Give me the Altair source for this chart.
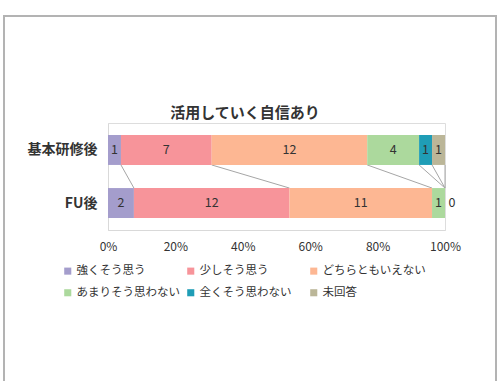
import altair as alt
import pandas as pd

title_text = "活用していく自信あり"
categories = ["強くそう思う", "少しそう思う", "どちらともいえない", "あまりそう思わない", "全くそう思わない", "未回答"]
colors = ["#a49dcc", "#f7949a", "#fdb793", "#acd99d", "#1f9db6", "#bbb698"]
groups = ["基本研修後", "FU後"]
values_kihon = [1, 7, 12, 4, 1, 1]
values_fu = [2, 12, 11, 1, 0, 0]
group_center = {"基本研修後": 0.748, "FU後": 0.252}
half = 0.14

rows = []
conn = []
cum = {}
for g, vals in zip(groups, [values_kihon, values_fu]):
    total = sum(vals)
    s = 0
    ends = []
    for c, v in zip(categories, vals):
        rows.append({"group": g, "cat": c, "value": v,
                     "x0": s / total, "x1": (s + v) / total,
                     "xm": (s + v / 2) / total,
                     "y0": group_center[g] - half, "y1": group_center[g] + half,
                     "yc": group_center[g]})
        s += v
        ends.append(s / total)
    cum[g] = ends
df = pd.DataFrame(rows)
for i, c in enumerate(categories):
    conn.append({"cat": c, "xa": cum["基本研修後"][i], "xb": cum["FU後"][i],
                 "ya": group_center["基本研修後"] - half, "yb": group_center["FU後"] + half})
cdf = pd.DataFrame(conn)

FONT = "Noto Sans CJK JP"

xscale = alt.Scale(domain=[0, 1], nice=False, zero=True)
yscale = alt.Scale(domain=[0, 1], nice=False, zero=True)

bars = alt.Chart(df).mark_bar(opacity=1).encode(
    x=alt.X("x0:Q", scale=xscale,
            axis=alt.Axis(format="%", values=[0, 0.2, 0.4, 0.6, 0.8, 1.0], title=None,
                          grid=False, ticks=False, domainColor="#d9d9d9",
                          labelFontSize=12, labelColor="#333333", labelPadding=11,
                          labelFlush=False, labelOverlap=False, labelFont=FONT)),
    x2="x1:Q",
    y=alt.Y("y0:Q", scale=yscale,
            axis=alt.Axis(values=[0.252, 0.748], title=None, grid=False, ticks=False,
                          labelExpr="datum.value > 0.5 ? '基本研修後' : 'FU後'",
                          domainColor="#d9d9d9", labelFontSize=14, labelFontWeight="bold",
                          labelColor="#333333", labelPadding=11, labelFont=FONT)),
    y2="y1:Q",
    color=alt.Color("cat:N", scale=alt.Scale(domain=categories, range=colors),
                    legend=alt.Legend(title=None, orient="none", legendX=-46, legendY=142,
                                      columns=3, direction="horizontal", gridAlign="all",
                                      columnPadding=5, rowPadding=9, symbolType="square",
                                      symbolSize=50, symbolStrokeWidth=0, labelFontSize=11.5,
                                      labelColor="#333333", labelOffset=3, labelFont=FONT,
                                      labelLimit=200)),
)

connectors = alt.Chart(cdf).mark_rule(color="#a6a6a6", strokeWidth=1).encode(
    x=alt.X("xa:Q", scale=xscale), x2="xb:Q",
    y=alt.Y("ya:Q", scale=yscale), y2="yb:Q",
)

labels = alt.Chart(df[df["value"] > 0]).mark_text(fontSize=12.5, color="#333333", font=FONT).encode(
    x=alt.X("xm:Q", scale=xscale), y=alt.Y("yc:Q", scale=yscale), text="value:Q"
)
zeros = df[df["value"] == 0].drop_duplicates(subset=["group", "x1"])
zero_labels = alt.Chart(zeros).mark_text(fontSize=12.5, color="#333333", font=FONT, dx=7).encode(
    x=alt.X("x1:Q", scale=xscale), y=alt.Y("yc:Q", scale=yscale), text="value:Q"
)

frame = alt.Chart(pd.DataFrame({"a": [0]})).mark_rect(
    fill=None, fillOpacity=0, stroke="#b3b3b3", strokeWidth=2
).encode(x=alt.value(-104), x2=alt.value(388), y=alt.value(-107), y2=alt.value(262))

title = alt.Chart(pd.DataFrame({"t": [title_text]})).mark_text(
    fontSize=15, fontWeight="bold", font=FONT, color="#333333", align="center", baseline="middle"
).encode(x=alt.value(137), y=alt.value(-10), text="t:N")

chart = alt.layer(frame, title, connectors, bars, labels, zero_labels).properties(
    width=337, height=107,
    autosize=alt.AutoSizeParams(type="none"),
    padding={"left": 108, "top": 123, "right": 53, "bottom": 151},
).configure_view(stroke=None).configure(background="white")

chart.save("out.html", embed_options={"renderer": "svg", "actions": False})
